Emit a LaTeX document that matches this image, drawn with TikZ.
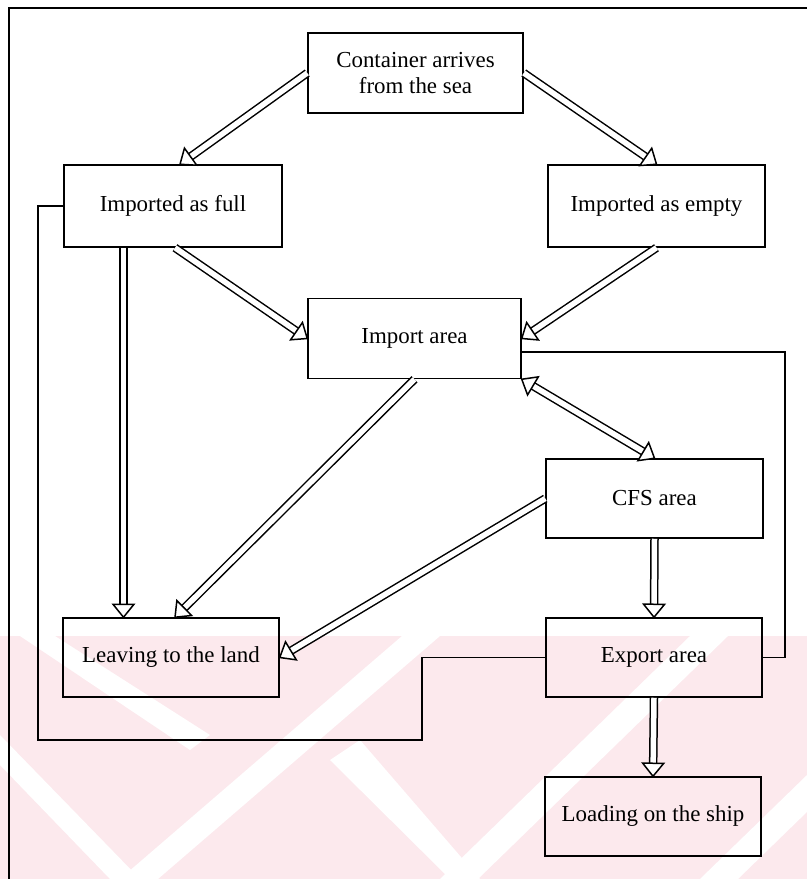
\documentclass[tikz,border=0pt]{standalone}
\usepackage{fontspec}
\setmainfont{Liberation Serif}
\usetikzlibrary{arrows.meta,calc,decorations.markings}
\definecolor{wm}{RGB}{252,233,237}
\begin{document}
\begin{tikzpicture}[x=1bp,y=-1bp,
  box/.style={draw, line width=1.5bp, minimum width=216bp, minimum height=80bp,
    align=center, inner sep=0pt, font=\fontsize{23}{26}\selectfont},
  headtri/.style={draw=black, fill=white, line width=1.5bp, line join=miter},
  darrow/.style={double, double distance=5.5bp, line width=1.5bp, shorten >=11bp,
    postaction={decorate, decoration={markings,
      mark=at position 1 with {\draw[headtri] (0,0) -- (-13bp,10.5bp) -- (-13bp,-10.5bp) -- cycle;}}}},
  dbarrow/.style={double, double distance=5.5bp, line width=1.5bp, shorten >=11bp, shorten <=11bp,
    postaction={decorate, decoration={markings,
      mark=at position 0 with {\draw[headtri] (0,0) -- (13bp,10.5bp) -- (13bp,-10.5bp) -- cycle;},
      mark=at position 1 with {\draw[headtri] (0,0) -- (-13bp,10.5bp) -- (-13bp,-10.5bp) -- cycle;}}}},
  plainline/.style={line width=1.5bp}]
\useasboundingbox (0,0) rectangle (807,879);
% watermark
\fill[wm] (0,636) rectangle (807,879);
\begin{scope}
\clip (0,636) rectangle (807,879);
\fill[white] (120,879) -- (158,879) -- (440,636) -- (402,636) -- cycle;
\fill[white] (440,879) -- (478,879) -- (728,636) -- (690,636) -- cycle;
\fill[white] (700,879) -- (738,879) -- (988,636) -- (950,636) -- cycle;
\fill[white] (20,636) -- (55,636) -- (210,735) -- (190,750) -- cycle;
\fill[white] (0,735) -- (0,765) -- (110,879) -- (140,879) -- cycle;
\fill[white] (330,760) -- (360,740) -- (480,879) -- (450,879) -- cycle;
\end{scope}
% frame
\draw[plainline] (9,879) -- (9,8) -- (807,8);
% nodes
\node[box, minimum width=215bp] (cont) at (415.5,73) {Container arrives\\from the sea};
\node[box, minimum width=218bp, minimum height=82bp] (full) at (173,206) {Imported as full};
\node[box, minimum width=217bp, minimum height=82bp] (empty) at (656.5,206) {Imported as empty};
\node[box, minimum width=213bp] (imp) at (414.5,338.5) {Import area};
\node[box, minimum width=217bp, minimum height=79bp] (cfs) at (654.5,498.5) {CFS area};
\node[box, minimum width=216bp, minimum height=79bp] (leave) at (171,657.5) {Leaving to the land};
\node[box, minimum width=216bp, minimum height=79bp] (exp) at (654,657.5) {Export area};
\node[box, minimum width=216bp, minimum height=79bp] (load) at (653,816.5) {Loading on the ship};
% arrows
\draw[darrow] (cont.west) -- ([xshift=7bp]full.north);
\draw[darrow] (cont.east) -- (empty.north);
\draw[darrow] ([xshift=2bp]full.south) -- (imp.west);
\draw[darrow] (empty.south) -- (imp.east);
\draw[darrow] ([xshift=-49.5bp]full.south) -- ([xshift=-49.5bp]full.south |- leave.north);
\draw[darrow] (imp.south) -- ([xshift=4bp]leave.north);
\draw[dbarrow] (imp.south east) -- (cfs.north);
\draw[darrow] (cfs.west) -- (leave.east);
\draw[darrow] (cfs.south) -- (exp.north);
\draw[darrow] (exp.south) -- (load.north);
% plain connectors
\coordinate (a1) at (422,657.5);
\coordinate (a2) at (422,740);
\coordinate (a3) at (38,740);
\draw[plainline] (exp.west) -- (a1) -- (a2) -- (a3) -- (a3 |- full.west) -- (full.west);
\coordinate (b1) at (785,352);
\draw[plainline] (exp.east) -- (exp.east -| b1) -- (b1) -- (b1 -| imp.east);
\end{tikzpicture}
\end{document}
